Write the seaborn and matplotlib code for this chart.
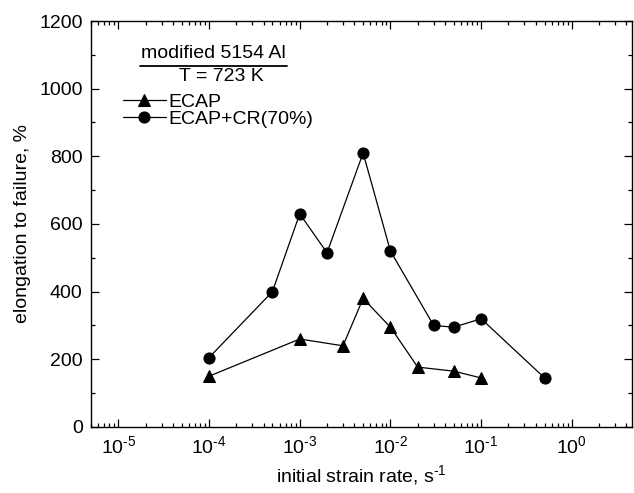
import numpy as np
import pandas as pd
import seaborn as sns
from matplotlib import pyplot as plt
from matplotlib.ticker import LogLocator, MultipleLocator, NullFormatter, FuncFormatter

# data
rate_ecap = [1e-4, 1e-3, 3e-3, 5e-3, 1e-2, 2e-2, 5e-2, 1e-1]
elong_ecap = [150, 260, 240, 380, 295, 177, 165, 145]

rate_cr = [1e-4, 5e-4, 1e-3, 2e-3, 5e-3, 1e-2, 3e-2, 5e-2, 1e-1, 5e-1]
elong_cr = [205, 400, 630, 515, 810, 520, 300, 295, 320, 145]

sns.set_theme(style='ticks')
plt.rcParams['font.family'] = ['Liberation Sans', 'DejaVu Sans']
plt.rcParams['mathtext.fontset'] = 'custom'
plt.rcParams['mathtext.rm'] = 'Liberation Sans'
plt.rcParams['mathtext.it'] = 'Liberation Sans'
plt.rcParams['text.color'] = 'black'
plt.rcParams['axes.labelcolor'] = 'black'

fig = plt.figure(figsize=(6.34, 4.93), dpi=100)
ax = fig.add_axes([0.1435, 0.1339, 0.8533, 0.8235])

df_ecap = pd.DataFrame({'rate': rate_ecap, 'elong': elong_ecap})
df_cr = pd.DataFrame({'rate': rate_cr, 'elong': elong_cr})

sns.lineplot(data=df_ecap, x='rate', y='elong', ax=ax, color='black', lw=0.9,
             marker='^', markersize=9, markeredgecolor='black', label='ECAP')
sns.lineplot(data=df_cr, x='rate', y='elong', ax=ax, color='black', lw=0.9,
             marker='o', markersize=8, markeredgecolor='black', label='ECAP+CR(70%)')

ax.set_xscale('log')
ax.set_xlim(5e-6, 4.6)
ax.set_ylim(0, 1200)
ax.yaxis.set_major_locator(MultipleLocator(200))
ax.yaxis.set_minor_locator(MultipleLocator(100))
ax.xaxis.set_major_locator(LogLocator(base=10, numticks=20))
ax.xaxis.set_minor_locator(LogLocator(base=10, subs=np.arange(2, 10), numticks=20))
ax.xaxis.set_minor_formatter(NullFormatter())
# hyphen-style exponents like the original
ax.xaxis.set_major_formatter(FuncFormatter(
    lambda v, pos: r'$10^{\text{%d}}$' % int(round(np.log10(v)))))

for sp in ax.spines.values():
    sp.set_linewidth(1.0)
    sp.set_color('black')
ax.tick_params(which='both', direction='in', top=True, right=True,
               labelsize=14, colors='black', width=0.9)
ax.tick_params(which='major', length=6, pad=6)
ax.tick_params(which='minor', length=3)

ax.set_xlabel(r'initial strain rate, s$^{\text{-1}}$', fontsize=14, labelpad=4)
ax.set_ylabel('elongation to failure, %', fontsize=14, labelpad=6)

# legend heading
ax.text(0.2255, 0.921, 'modified 5154 Al', transform=ax.transAxes,
        ha='center', va='center', fontsize=14)
ax.plot([0.0906, 0.362], [0.890, 0.890], transform=ax.transAxes,
        color='black', lw=1.3)
ax.text(0.2416, 0.863, 'T = 723 K', transform=ax.transAxes,
        ha='center', va='center', fontsize=14)

ax.legend(loc='upper left', bbox_to_anchor=(0.045, 0.842), frameon=False,
          fontsize=14, handlelength=2.2, handletextpad=0.15, labelspacing=0.0,
          borderaxespad=0)

fig.savefig('out.png', dpi=100)
